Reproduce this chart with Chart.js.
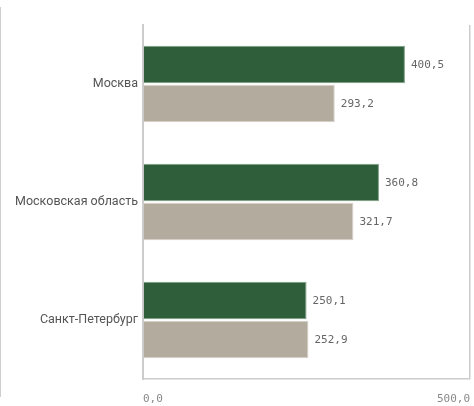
<!DOCTYPE html>
<html><head><meta charset="utf-8">
<script src="https://cdn.jsdelivr.net/npm/chart.js@4/dist/chart.umd.min.js"></script>
<style>
html,body{margin:0;padding:0;background:#fff;}
#wrap{position:relative;width:474px;height:406px;}
#stray{position:absolute;left:0;top:7px;width:1px;height:390px;background:#cfcfcf;}
canvas{display:block;}
</style></head>
<body><div id="wrap"><div id="stray"></div><canvas id="c" width="474" height="406"></canvas></div>
<script>
const categories = ["Москва", "Московская область", "Санкт-Петербург"];
const seriesA = [400.5, 360.8, 250.1];
const seriesB = [293.2, 321.7, 252.9];
const xTicks = [0, 500];

const fmt = v => v.toFixed(1).replace('.', ',');

const valueLabels = {
  id: 'valueLabels',
  afterDatasetsDraw(chart) {
    const ctx = chart.ctx;
    ctx.save();
    ctx.font = '11px "DejaVu Sans Mono"';
    ctx.fillStyle = '#666';
    ctx.textAlign = 'left';
    ctx.textBaseline = 'middle';
    chart.data.datasets.forEach((ds, i) => {
      chart.getDatasetMeta(i).data.forEach((bar, j) => {
        ctx.fillText(fmt(ds.data[j]), bar.x + 6, bar.y + 1);
      });
    });
    ctx.restore();
  }
};

new Chart(document.getElementById('c'), {
  type: 'bar',
  data: {
    labels: categories,
    datasets: [
      { data: seriesA, backgroundColor: '#2e5f3a', borderColor: '#7f9e86', borderWidth: 1,
        categoryPercentage: 0.66, barPercentage: 0.96 },
      { data: seriesB, backgroundColor: '#b3ab9e', borderColor: '#d6d0c7', borderWidth: 1,
        categoryPercentage: 0.66, barPercentage: 0.96 }
    ]
  },
  options: {
    indexAxis: 'y',
    responsive: false,
    animation: false,
    layout: { padding: { top: 25, right: 4, left: 0, bottom: 0 } },
    plugins: { legend: { display: false }, tooltip: { enabled: false } },
    scales: {
      x: {
        min: 0, max: 500,
        afterBuildTicks(scale) { scale.ticks = xTicks.map(v => ({ value: v })); },
        afterFit(scale) { scale.height = 27; scale.paddingLeft = 0; scale.paddingRight = 0; },
        ticks: {
          align: 'inner', padding: 14,
          font: { family: '"DejaVu Sans Mono"', size: 11 },
          color: '#888',
          callback: v => fmt(v)
        },
        grid: { color: '#cccccc', lineWidth: 1.5, tickLength: 0, drawTicks: false },
        border: { color: '#cccccc', width: 1.5 }
      },
      y: {
        afterFit(scale) { scale.width = 143; scale.paddingTop = 0; scale.paddingBottom = 0; },
        ticks: {
          padding: 5,
          font: { family: 'Roboto', size: 12.5 },
          color: '#555'
        },
        grid: { display: false, drawTicks: false },
        border: { color: '#cccccc', width: 2 }
      }
    }
  },
  plugins: [valueLabels]
});
</script>
</body></html>
